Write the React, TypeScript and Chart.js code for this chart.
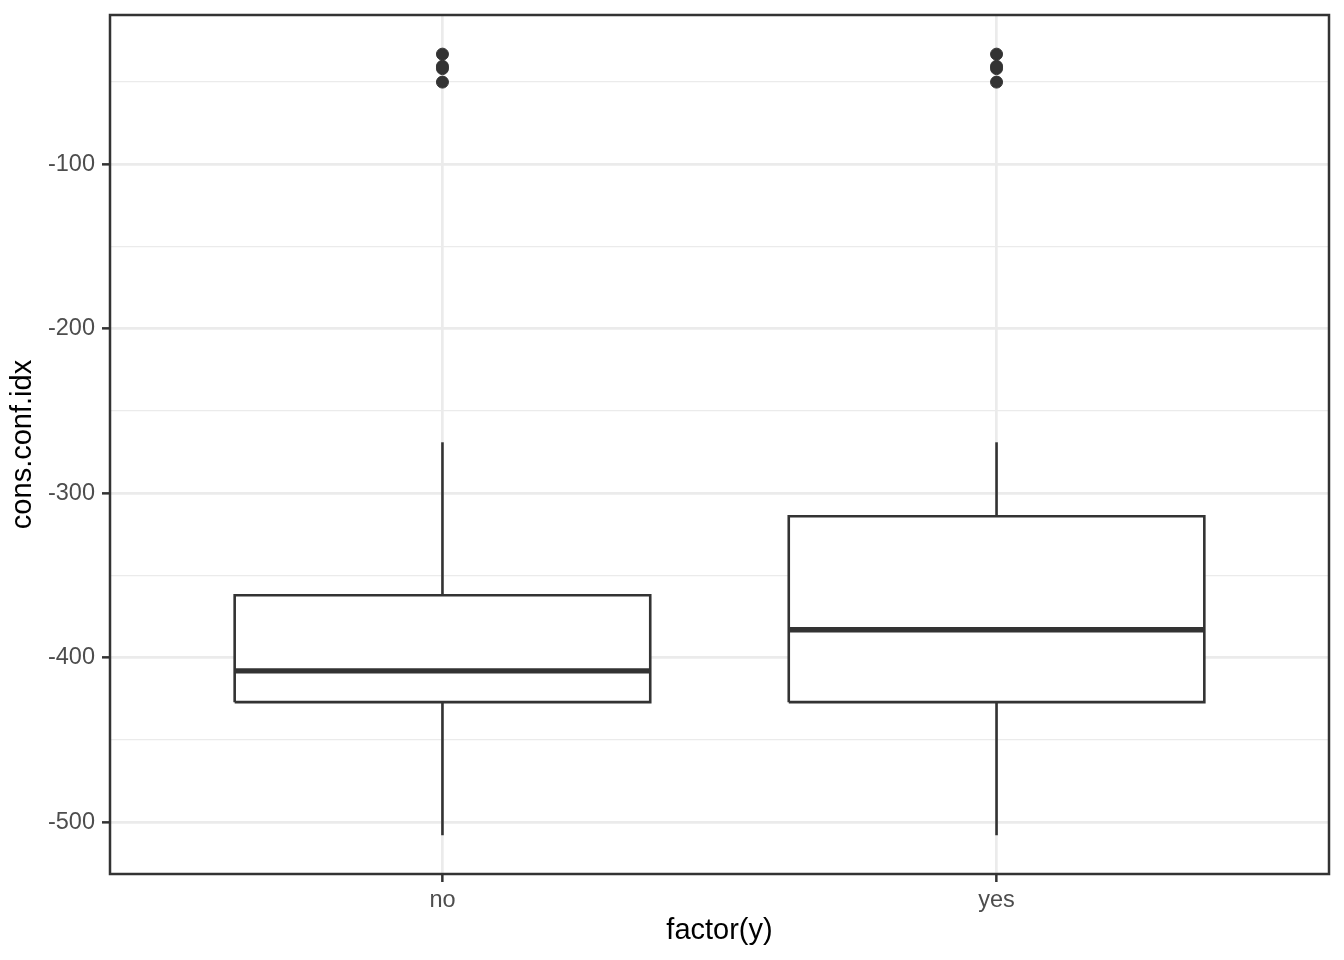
import React, { useEffect, useRef } from 'react';
import { Chart, registerables } from 'chart.js';

Chart.register(...registerables);

// ---- data ----
const categories = ['no', 'yes'];
const lowerWhisker = [-508, -508];
const q1 = [-427, -427];
const median = [-408, -383];
const q3 = [-362, -314];
const upperWhisker = [-269, -269];
const outliersNo = [-33, -40.4, -41.8, -50];
const outliersYes = [-33, -40.4, -41.8, -50];
const yMajorTicks = [-500, -400, -300, -200, -100];
const yMinorTicks = [-450, -350, -250, -150, -50];
const yMin = -531.5;
const yMax = -9.2;
const xMin = 0.4;
const xMax = 2.6;
const xTitle = 'factor(y)';
const yTitle = 'cons.conf.idx';

// ---- styles ----
const BOX_WIDTH = 0.75;
const INK = '#333333';
const GRID = '#EBEBEB';
const FONT = "'Liberation Sans', Arial, Helvetica, sans-serif";

const panelBorder = {
  id: 'panelBorder',
  afterDraw(chart: any) {
    const { ctx, chartArea } = chart;
    ctx.save();
    ctx.strokeStyle = INK;
    ctx.lineWidth = 2.5;
    ctx.strokeRect(chartArea.left, chartArea.top, chartArea.right - chartArea.left, chartArea.bottom - chartArea.top);
    ctx.restore();
  },
};

function buildDatasets() {
  const outliers = [outliersNo, outliersYes];
  const ds: any[] = [];
  categories.forEach((_, i) => {
    const x = i + 1;
    const l = x - BOX_WIDTH / 2;
    const r = x + BOX_WIDTH / 2;
    const lineBase = {
      showLine: true,
      pointRadius: 0,
      pointHoverRadius: 0,
      borderColor: INK,
      borderCapStyle: 'butt',
      tension: 0,
    };
    // lower "order" is drawn on top
    ds.push({ ...lineBase, order: 3, borderWidth: 2.6, data: [{ x, y: q3[i] }, { x, y: upperWhisker[i] }] });
    ds.push({ ...lineBase, order: 3, borderWidth: 2.6, data: [{ x, y: q1[i] }, { x, y: lowerWhisker[i] }] });
    ds.push({
      ...lineBase,
      order: 2,
      borderWidth: 2.6,
      borderJoinStyle: 'miter',
      fill: 'shape',
      backgroundColor: '#FFFFFF',
      data: [
        { x: l, y: q1[i] },
        { x: r, y: q1[i] },
        { x: r, y: q3[i] },
        { x: l, y: q3[i] },
        { x: l, y: q1[i] },
      ],
    });
    ds.push({ ...lineBase, order: 1, borderWidth: 5.4, data: [{ x: l, y: median[i] }, { x: r, y: median[i] }] });
    ds.push({
      showLine: false,
      order: 0,
      pointRadius: 6,
      pointBorderWidth: 1,
      pointBackgroundColor: INK,
      pointBorderColor: INK,
      data: outliers[i].map((y) => ({ x, y })),
    });
  });
  return ds;
}

export default function App() {
  const ref = useRef<HTMLCanvasElement | null>(null);
  useEffect(() => {
    if (!ref.current) return;
    const allY = [...yMajorTicks, ...yMinorTicks].sort((a, b) => a - b);
    const chart = new Chart(ref.current, {
      type: 'scatter',
      data: { datasets: buildDatasets() },
      plugins: [panelBorder],
      options: {
        animation: false,
        responsive: false,
        devicePixelRatio: 1,
        events: [],
        layout: { padding: { left: 6, right: 15, top: 15, bottom: 12 } },
        plugins: { legend: { display: false }, tooltip: { enabled: false } },
        scales: {
          x: {
            type: 'linear',
            min: xMin,
            max: xMax,
            afterBuildTicks: (scale: any) => {
              scale.ticks = categories.map((_, i) => ({ value: i + 1 }));
            },
            afterFit: (scale: any) => {
              scale.height = 74;
              scale.paddingLeft = 0;
              scale.paddingRight = 0;
            },
            border: { display: false },
            grid: {
              color: GRID,
              lineWidth: 2.7,
              tickColor: INK,
              tickWidth: 2.5,
              tickLength: 8,
            },
            ticks: {
              autoSkip: false,
              maxRotation: 0,
              padding: 4,
              color: '#4D4D4D',
              font: { family: FONT, size: 23.5 },
              callback: (v: any) => categories[Math.round(Number(v)) - 1] ?? '',
            },
            title: {
              display: true,
              text: xTitle,
              color: '#000000',
              font: { family: FONT, size: 29, lineHeight: 1.2 },
              padding: 0,
            },
          },
          y: {
            type: 'linear',
            min: yMin,
            max: yMax,
            afterBuildTicks: (scale: any) => {
              scale.ticks = allY.map((v) => ({ value: v }));
            },
            afterFit: (scale: any) => {
              scale.width = 104;
              scale.paddingTop = 0;
              scale.paddingBottom = 0;
            },
            border: { display: false },
            grid: {
              color: GRID,
              lineWidth: (c: any) => (yMajorTicks.includes(c.tick?.value) ? 2.7 : 1.35),
              tickColor: (c: any) => (yMajorTicks.includes(c.tick?.value) ? INK : 'rgba(0,0,0,0)'),
              tickWidth: 2.5,
              tickLength: 8,
            },
            ticks: {
              autoSkip: false,
              padding: 7,
              color: '#4D4D4D',
              font: { family: FONT, size: 23.5 },
              callback: (v: any) => (yMajorTicks.includes(Number(v)) ? String(v) : ''),
            },
            title: {
              display: true,
              text: yTitle,
              color: '#000000',
              font: { family: FONT, size: 29, lineHeight: 1.2 },
              padding: 0,
            },
          },
        },
      } as any,
    });
    return () => chart.destroy();
  }, []);
  return (
    <div style={{ position: 'absolute', left: 0, top: 0, width: 1344, height: 960, background: '#FFFFFF' }}>
      <canvas ref={ref} width={1344} height={960} style={{ display: 'block', width: 1344, height: 960 }} />
    </div>
  );
}
